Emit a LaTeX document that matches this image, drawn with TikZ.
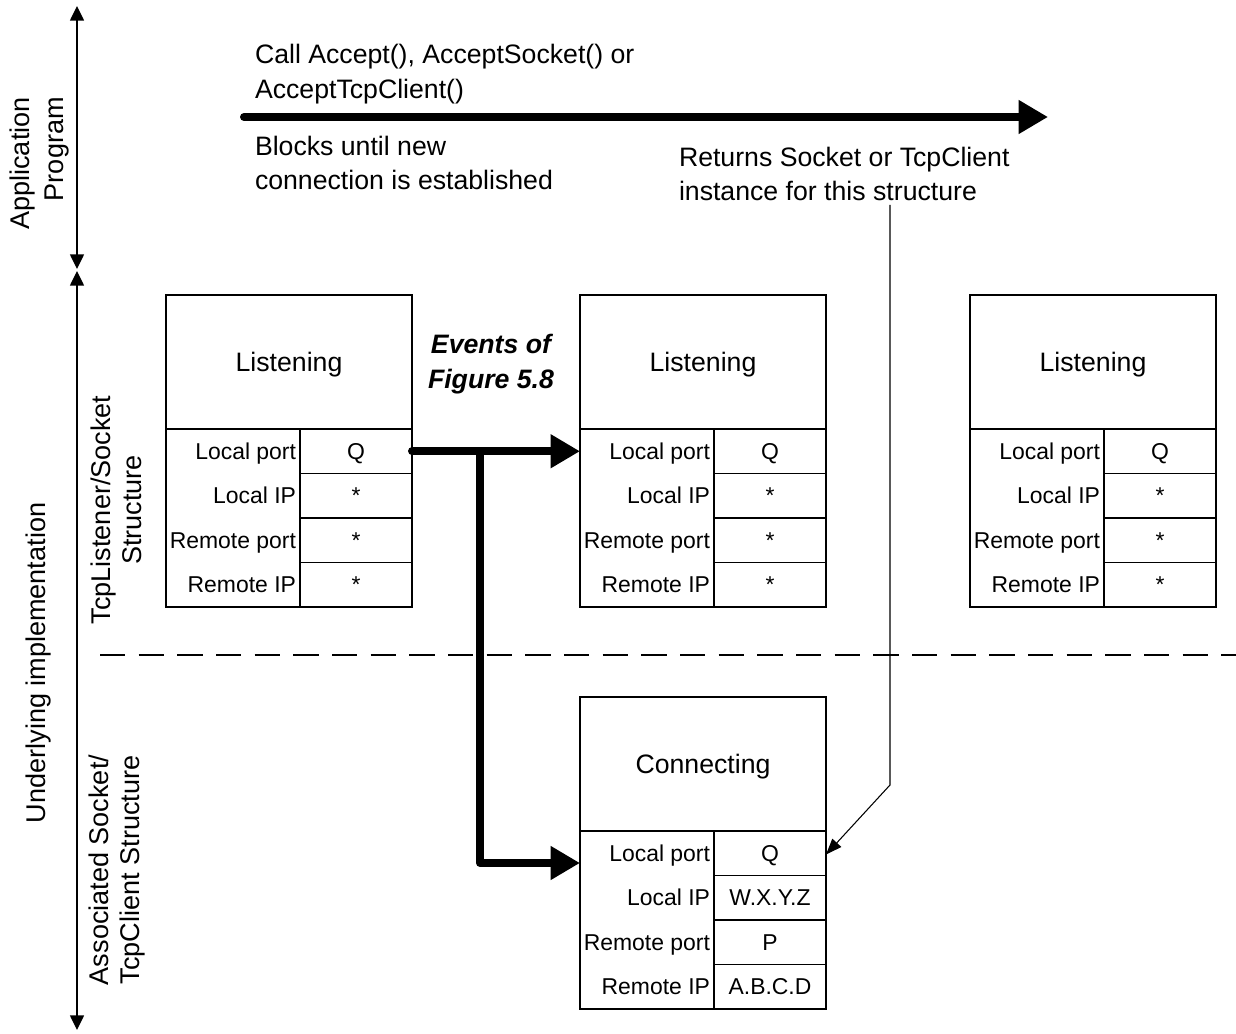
\documentclass[tikz,border=0pt]{standalone}
\usepackage{fontspec}
\setmainfont{Liberation Sans}
\usetikzlibrary{arrows.meta}

% One socket structure: state header, label column and four value cells
% #1 name, #2 left x, #3 top y, #4 state, #5-#8 values
\newcommand\sockbox[8]{%
  \node[hdrcell, anchor=north west] (#1-head) at (#2,#3) {#4};
  \node[labcol, anchor=north west] (#1-lab) at (#1-head.south west) {};
  \node[valcell, anchor=north west] (#1-v1) at (#1-lab.north east) {#5};
  \node[valcell, anchor=north] (#1-v2) at (#1-v1.south) {#6};
  \node[valcell, anchor=north] (#1-v3) at (#1-v2.south) {#7};
  \node[valcell, anchor=north] (#1-v4) at (#1-v3.south) {#8};
  \node[labtext] (#1-l1) at ([xshift=-3pt]#1-v1.west) {Local port};
  \node[labtext] (#1-l2) at ([xshift=-3pt]#1-v2.west) {Local IP};
  \node[labtext] (#1-l3) at ([xshift=-3pt]#1-v3.west) {Remote port};
  \node[labtext] (#1-l4) at ([xshift=-3pt]#1-v4.west) {Remote IP};
}

\begin{document}
\begin{tikzpicture}[x=0.75pt, y=-0.75pt,
  every node/.style={inner sep=0pt, outer sep=0pt},
  frame/.style={draw, line width=0.9pt},
  bigtext/.style={font=\fontsize{20}{26}\selectfont},
  celltext/.style={font=\fontsize{17.2}{20}\selectfont, text height=15.5pt, text depth=3.5pt},
  hdrcell/.style={frame, minimum width=246*0.75pt, minimum height=134*0.75pt,
    font=\fontsize{20}{24}\selectfont, text height=18pt, text depth=4pt},
  labcol/.style={frame, minimum width=134*0.75pt, minimum height=178*0.75pt},
  valcell/.style={frame, celltext, minimum width=112*0.75pt, minimum height=44.5*0.75pt},
  labtext/.style={anchor=east, celltext},
  note/.style={bigtext, align=left, anchor=west},
  sidelabel/.style={rotate=90, font=\fontsize{20.3}{23.5}\selectfont},
  axis/.style={line width=1.1pt, {Triangle[length=11pt,width=10.5pt]}-{Triangle[length=11pt,width=10.5pt]}},
  bigarrow/.style={line width=6pt, line cap=round, line join=round, -{Triangle[length=22pt,width=24pt]}},
  thinarrow/.style={line width=0.8pt, -{Triangle[length=12pt,width=9pt]}},
  divider/.style={line width=1.6pt, dash pattern=on 19pt off 10pt}
]
\useasboundingbox (0,0) rectangle (1236,1034);

% side axes
\coordinate (apptop) at (77,6);
\coordinate (appbot) at (77,269);
\coordinate (impltop) at (77,271);
\coordinate (implbot) at (77,1030);
\draw[axis] (apptop) -- (appbot);
\draw[axis] (impltop) -- (implbot);

\node[sidelabel, align=right, font=\fontsize{20.3}{26}\selectfont] (applbl) at (39.5,163.5) {Application\\Program};
\node[sidelabel] (impllbl) at (39,663) {Underlying implementation};
\node[sidelabel, align=center] (listenlbl) at (116,510) {TcpListener/Socket\\Structure};
\node[sidelabel, align=center] (clientlbl) at (117,870) {Associated Socket/\\TcpClient Structure};

% application call
\coordinate (callstart) at (244,117);
\coordinate (callend) at (1048,117);
\draw[bigarrow] (callstart) -- (callend);
\node[note] (calltxt) at (255,74) {Call Accept(), AcceptSocket() or\\AcceptTcpClient()};
\node[note] (blocktxt) at (255,163) {Blocks until new\\connection is established};
\node[note] (rettxt) at (679,174) {Returns Socket or TcpClient\\instance for this structure};

% structures
\sockbox{lisA}{166}{295}{Listening}{Q}{*}{*}{*}
\sockbox{lisB}{580}{295}{Listening}{Q}{*}{*}{*}
\sockbox{lisC}{970}{295}{Listening}{Q}{*}{*}{*}
\sockbox{conn}{580}{697}{Connecting}{Q}{W.X.Y.Z}{P}{A.B.C.D}

\node[align=center, font=\fontsize{20}{26}\selectfont\bfseries\itshape] (events) at (491,364) {Events of\\Figure 5.8};

% boundary between listening and connected structures
\coordinate (dashL) at (100,655);
\coordinate (dashR) at (1236,655);
\draw[divider] (dashL) -- (dashR);

% transitions
\coordinate (split) at (480,452);
\coordinate (turn) at (480,863);
\draw[bigarrow] (lisA-v1.east) -- (lisA-v1.east -| lisB-lab.west);
\draw[bigarrow] (split) -- (turn) -- (turn -| conn-lab.west);

% returned instance
\coordinate (retstart) at (890,205);
\coordinate (retbend) at (890,785);
\draw[thinarrow] (retstart) -- (retbend) -- ([yshift=-1pt]conn-v1.east);
\end{tikzpicture}
\end{document}
